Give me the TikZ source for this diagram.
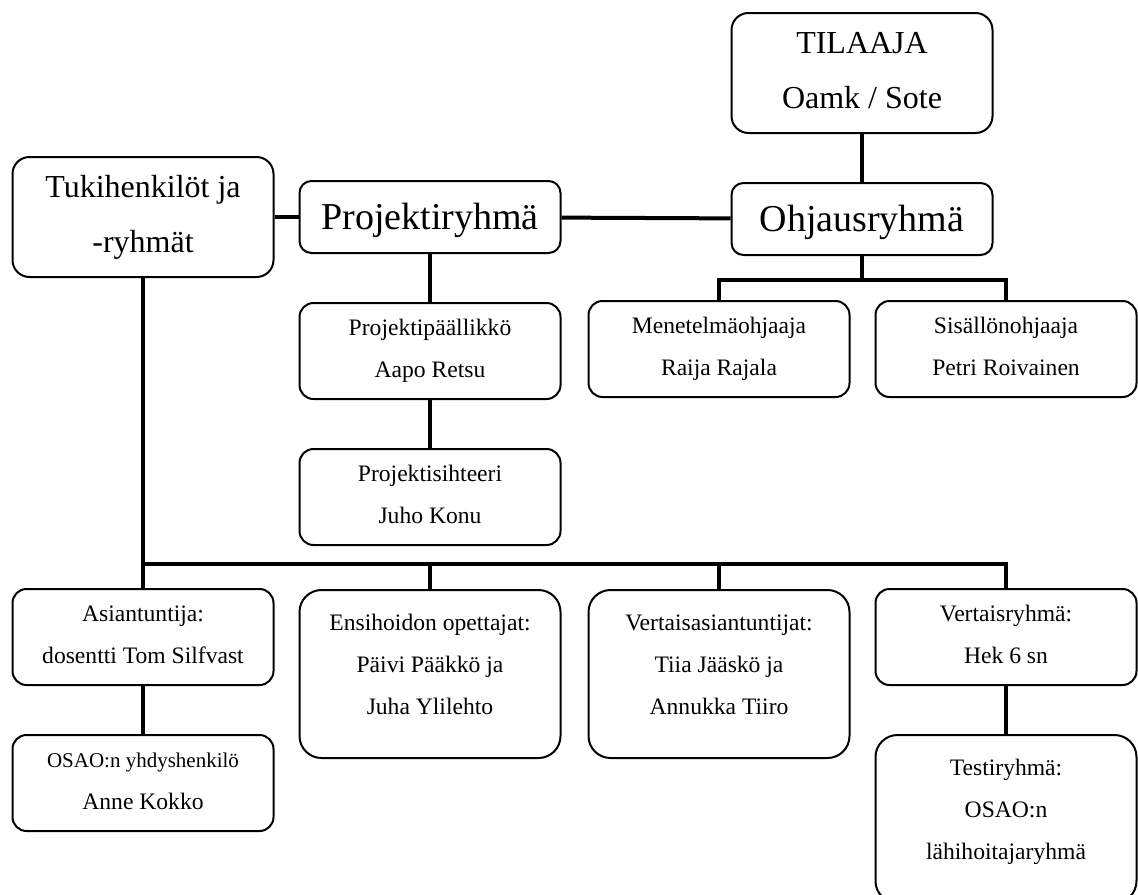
\documentclass[tikz,border=0pt]{standalone}
\usepackage{fontspec}
\setmainfont{Liberation Serif}
\usetikzlibrary{positioning}

\begin{document}
\begin{tikzpicture}[
    x=0.5pt, y=-0.5pt,
    box/.style={draw, rounded corners=7pt, line width=1pt, minimum width=130.5pt,
                minimum height=48pt, align=center, inner sep=2pt,
                text height=35pt, text depth=9pt,
                font=\fontsize{11.8}{21}\selectfont},
    bigbox/.style={box, minimum height=60pt, rounded corners=8.5pt,
                   text height=45.5pt, text depth=10.5pt,
                   font=\fontsize{16}{27.5}\selectfont},
    flatbox/.style={box, minimum height=36pt, rounded corners=6pt,
                    text height=16pt, text depth=4pt,
                    font=\fontsize{19}{24}\selectfont},
    tallbox/.style={box, minimum height=84pt, rounded corners=11pt,
                    text height=56pt, text depth=16pt},
    link/.style={line width=2pt},
]
    \path[use as bounding box] (0,0) rectangle (1138,894);
    \clip (0,0) rectangle (1138,894);

    % Top level
    \node[bigbox] (tilaaja) at (862,73) {TILAAJA\\Oamk / Sote};
    \node[flatbox, below=24pt of tilaaja] (ohjaus) {Ohjausryhmä};
    \node[bigbox] (tuki) at (143,217) {Tukihenkilöt ja\\-ryhmät};
    \node[flatbox] (projekti) at (430,217) {Projektiryhmä};

    % Project staff and supervisors
    \node[box, below=24pt of projekti] (paallikko) {Projektipäällikkö\\Aapo Retsu};
    \node[box, below=24pt of paallikko] (sihteeri) {Projektisihteeri\\Juho Konu};
    \node[box] (menetelma) at (719,349) {Menetelmäohjaaja\\Raija Rajala};
    \node[box] (sisalto) at (1006,349) {Sisällönohjaaja\\Petri Roivainen};

    % Support persons
    \node[box] (asiantuntija) at (143,637) {Asiantuntija:\\dosentti Tom Silfvast};
    \node[tallbox, anchor=north] (opettajat) at (430,589) {Ensihoidon opettajat:\\Päivi Pääkkö ja\\Juha Ylilehto};
    \node[tallbox, anchor=north] (vertaiset) at (719,589) {Vertaisasiantuntijat:\\Tiia Jääskö ja\\Annukka Tiiro};
    \node[box] (vertaisryhma) at (1006,637) {Vertaisryhmä:\\Hek 6 sn};
    \node[box, below=24pt of asiantuntija] (osao) {{\fontsize{10.5}{21}\selectfont OSAO:n yhdyshenkilö}\\Anne Kokko};
    \node[tallbox, below=24pt of vertaisryhma] (testi) {Testiryhmä:\\OSAO:n\\lähihoitajaryhmä};

    \coordinate (obus) at ([yshift=-12pt]ohjaus.south);
    \coordinate (bus) at ([yshift=12pt]asiantuntija.north);

    \draw[link] (tilaaja) -- (ohjaus);
    \draw[link] (tuki) -- (projekti);
    \draw[link] (projekti) -- (ohjaus);
    \draw[link] (projekti) -- (paallikko);
    \draw[link] (paallikko) -- (sihteeri);
    \draw[link] (ohjaus) -- (obus);
    \draw[link] (menetelma.north) |- (obus) -| (sisalto.north);

    \draw[link] (tuki) -- (asiantuntija);
    \draw[link] (bus) -| (vertaisryhma.north);
    \draw[link] (opettajat.north) -- (opettajat.north |- bus);
    \draw[link] (vertaiset.north) -- (vertaiset.north |- bus);
    \draw[link] (asiantuntija) -- (osao);
    \draw[link] (vertaisryhma) -- (testi);
\end{tikzpicture}
\end{document}
